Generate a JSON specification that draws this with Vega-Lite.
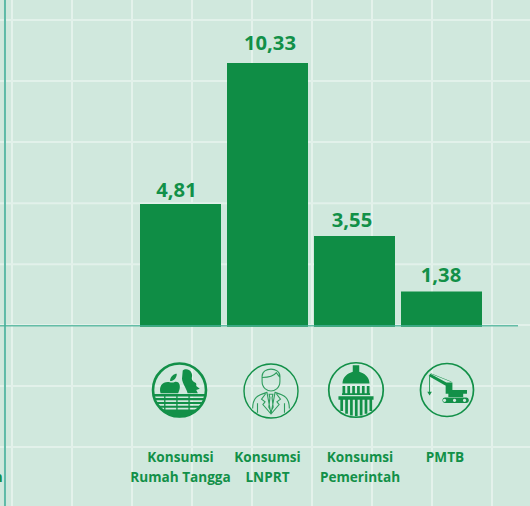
{
"$schema":"https://vega.github.io/schema/vega-lite/v6.json",
"width":530,"height":506,"padding":0,
"autosize":{"type":"fit","contains":"padding"},
"background":"#d0e8dd",
"config":{"view":{"stroke":null},"text":{"font":"Open Sans","fontWeight":700,"color":"#129048"}},
"datasets":{
"bars":[
{"kategori":"Konsumsi Rumah Tangga","nilai":4.81,"teks":"4,81","label":"Konsumsi\nRumah Tangga"},
{"kategori":"Konsumsi LNPRT","nilai":10.33,"teks":"10,33","label":"Konsumsi\nLNPRT"},
{"kategori":"Konsumsi Pemerintah","nilai":3.55,"teks":"3,55","label":"Konsumsi\nPemerintah"},
{"kategori":"PMTB","nilai":1.38,"teks":"1,38","label":"PMTB"}],
"gridV":[{"i":0},{"i":1},{"i":2},{"i":3},{"i":4},{"i":5},{"i":6},{"i":7},{"i":8}],
"gridH":[{"v":12.01},{"v":9.62},{"v":7.23},{"v":4.84},{"v":2.45},{"v":0.07},{"v":-2.32},{"v":-4.71}],
"axisH":[{"a":-0.2,"b":8.433,"v":0.04}],
"axisV":[{"a":-0.117}],
"potongan":[{"t":"n"}]
},
"layer":[
{"layer":[
{"data":{"name":"gridV"},"mark":{"type":"rule","color":"#eff7f3","strokeWidth":1.3,"clip":true},
 "encoding":{"x":{"field":"i","type":"quantitative","axis":null,"scale":{"domain":[-0.2,8.633],"zero":false,"nice":false}}}},
{"data":{"name":"gridH"},"mark":{"type":"rule","color":"#e2f1ea","strokeWidth":2,"clip":true},
 "encoding":{"y":{"field":"v","type":"quantitative","axis":null,"scale":{"domain":[-7.023,12.797],"nice":false,"zero":false}}}}
]},
{"data":{"name":"bars"},
 "encoding":{
  "x":{"field":"kategori","type":"nominal","axis":null,"sort":null,"scale":{"domain":["Konsumsi Rumah Tangga","Konsumsi LNPRT","Konsumsi Pemerintah","PMTB"],"range":[137,485],"paddingInner":0.069,"paddingOuter":0.0345}}
 },
 "layer":[
 {"mark":{"type":"bar","color":"#0f8d45"},
  "encoding":{"y":{"field":"nilai","type":"quantitative","axis":null,"scale":{"domain":[-7.023,12.797],"nice":false,"zero":false}}}},
 {"transform":[{"filter":"datum.kategori==='Konsumsi Rumah Tangga'"}],"mark":{"type":"text","fontSize":20.2,"baseline":"alphabetic","dx":-4,"dy":-6.5},
  "encoding":{"y":{"field":"nilai","type":"quantitative"},"text":{"field":"teks"}}},
 {"transform":[{"filter":"datum.kategori==='Konsumsi LNPRT'"}],"mark":{"type":"text","fontSize":20.2,"baseline":"alphabetic","dx":2.5,"dy":-13},
  "encoding":{"y":{"field":"nilai","type":"quantitative"},"text":{"field":"teks"}}},
 {"transform":[{"filter":"datum.kategori==='Konsumsi Pemerintah'"}],"mark":{"type":"text","fontSize":20.2,"baseline":"alphabetic","dx":-2.5,"dy":-9.5},
  "encoding":{"y":{"field":"nilai","type":"quantitative"},"text":{"field":"teks"}}},
 {"transform":[{"filter":"datum.kategori==='PMTB'"}],"mark":{"type":"text","fontSize":20.2,"baseline":"alphabetic","dx":-0.5,"dy":-9.5},
  "encoding":{"y":{"field":"nilai","type":"quantitative"},"text":{"field":"teks"}}},

 {"transform":[{"filter":"datum.kategori==='Konsumsi Rumah Tangga'"}],"mark":{"type":"point","shape":"circle","filled":false,"size":2809,"color":"#129048","strokeWidth":2.6,"opacity":1,"xOffset":-1},
  "encoding":{"y":{"datum":-2.48,"type":"quantitative"}}},
 {"transform":[{"filter":"datum.kategori==='Konsumsi Rumah Tangga'"}],"mark":{"type":"point","filled":true,"size":2916,"color":"#129048","opacity":1,"xOffset":-1,
  "shape":"M-.70,.12 C-.78,-.15 -.62,-.32 -.40,-.30 C-.30,-.28 -.25,-.26 -.18,-.30 C.0,-.34 .08,-.15 -.05,.12 Z M-.35,-.33 C-.35,-.5 -.2,-.6 -.1,-.6 C-.1,-.45 -.2,-.33 -.35,-.33 Z M.12,-.72 C.2,-.8 .4,-.78 .45,-.62 C.5,-.5 .42,-.45 .48,-.35 C.55,-.25 .65,-.3 .62,-.15 L.75,-.05 L.62,0 L.68,.12 L.3,.12 C.25,-.1 .05,-.3 .1,-.5 Z M-.98,.15 L.98,.15 L.96,.24 L-.96,.24 Z M-.94,.30 L.94,.30 L.91,.38 L-.91,.38 Z M-.89,.44 L.89,.44 L.84,.52 L-.84,.52 Z M-.80,.58 L.80,.58 L.74,.66 L-.74,.66 Z M-.69,.72 L.69,.72 A.98 .98 0 0 1 -.69,.72 Z M-.57,.15 L-.52,.15 L-.52,.8 L-.57,.8 Z M-.12,.15 L-.07,.15 L-.07,.9 L-.12,.9 Z M.33,.15 L.38,.15 L.38,.85 L.33,.85 Z"},
  "encoding":{"y":{"datum":-2.48,"type":"quantitative"}}},

 {"transform":[{"filter":"datum.kategori==='Konsumsi LNPRT'"}],"mark":{"type":"point","shape":"circle","filled":false,"size":2916,"color":"#129048","strokeWidth":1.4,"opacity":1,"xOffset":3.5},
  "encoding":{"y":{"datum":-2.52,"type":"quantitative"}}},
 {"transform":[{"filter":"datum.kategori==='Konsumsi LNPRT'"}],"mark":{"type":"point","filled":false,"size":2916,"color":"#129048","strokeWidth":1.1,"opacity":0.85,"xOffset":3.5,
  "shape":"M-.33,-.55 C-.33,-.9 .33,-.9 .33,-.55 L.33,-.35 C.33,-.1 .12,0 0,0 C-.12,0 -.33,-.1 -.33,-.35 Z M-.33,-.5 C-.1,-.5 .1,-.55 .2,-.68 C.25,-.6 .3,-.55 .33,-.5 M-.68,.65 C-.68,.25 -.5,.15 -.15,.05 L0,.85 L.15,.05 C.5,.15 .68,.25 .68,.65 M-.2,.1 L-.35,.3 L-.22,.4 L-.3,.5 L0,.85 L.3,.5 L.22,.4 L.35,.3 L.2,.1 M-.07,.12 L.07,.12 L.04,.25 L.08,.6 L0,.75 L-.08,.6 L-.04,.25 Z M-.5,.45 L-.5,.8 M.5,.45 L.5,.8"},
  "encoding":{"y":{"datum":-2.52,"type":"quantitative"}}},

 {"transform":[{"filter":"datum.kategori==='Konsumsi Pemerintah'"}],"mark":{"type":"point","shape":"circle","filled":false,"size":2970,"color":"#129048","strokeWidth":1.7,"opacity":1,"xOffset":1.5},
  "encoding":{"y":{"datum":-2.48,"type":"quantitative"}}},
 {"transform":[{"filter":"datum.kategori==='Konsumsi Pemerintah'"}],"mark":{"type":"point","filled":true,"size":2916,"color":"#129048","opacity":1,"xOffset":1.5,
  "shape":"M-.12,-.92 L.12,-.92 L.12,-.68 C.3,-.62 .5,-.5 .5,-.24 L-.5,-.24 C-.5,-.5 -.3,-.62 -.12,-.68 Z M-.5,-.15 L-.4,-.15 L-.4,.12 L-.5,.12 Z M-.32,-.15 L-.22,-.15 L-.22,.12 L-.32,.12 Z M-.14,-.15 L-.04,-.15 L-.04,.12 L-.14,.12 Z M.04,-.15 L.14,-.15 L.14,.12 L.04,.12 Z M.22,-.15 L.32,-.15 L.32,.12 L.22,.12 Z M.4,-.15 L.5,-.15 L.5,.12 L.4,.12 Z M-.52,.12 L.52,.12 L.52,.18 L-.52,.18 Z M-.65,.23 L.65,.23 L.65,.36 L-.65,.36 Z M-.58,.36 L-.48,.36 L-.48,.78 L-.58,.78 Z M-.4,.36 L-.3,.36 L-.3,.88 L-.4,.88 Z M-.22,.36 L-.12,.36 L-.12,.94 L-.22,.94 Z M-.04,.36 L.06,.36 L.06,.97 L-.04,.97 Z M.14,.36 L.24,.36 L.24,.94 L.14,.94 Z M.32,.36 L.42,.36 L.42,.88 L.32,.88 Z M.5,.36 L.6,.36 L.6,.78 L.5,.78 Z"},
  "encoding":{"y":{"datum":-2.48,"type":"quantitative"}}},

 {"transform":[{"filter":"datum.kategori==='PMTB'"}],"mark":{"type":"point","shape":"circle","filled":false,"size":2809,"color":"#129048","strokeWidth":1.7,"opacity":1,"xOffset":5.5},
  "encoding":{"y":{"datum":-2.48,"type":"quantitative"}}},
 {"transform":[{"filter":"datum.kategori==='PMTB'"}],"mark":{"type":"point","filled":true,"size":2916,"color":"#129048","opacity":1,"xOffset":5.5,
  "shape":"M-.68,-.52 L-.62,-.6 L.08,-.22 L.08,-.08 Z M-.66,-.5 L-.63,-.5 L-.63,.1 L-.66,.1 Z M-.73,.06 L-.56,.06 L-.645,.2 Z M-.05,-.28 L.2,-.28 L.2,0 L.74,0 L.74,.14 L.6,.14 L.6,.26 L.05,.26 L.05,.14 L-.05,.14 Z M-.07,.28 L.71,.28 A.1 .1 0 0 1 .71,.48 L-.07,.48 A.1 .1 0 0 1 -.07,.28 Z M-.15,.38 A.06 .06 0 1 0 -.03,.38 A.06 .06 0 1 0 -.15,.38 Z M.22,.38 A.06 .06 0 1 0 .34,.38 A.06 .06 0 1 0 .22,.38 Z M.59,.38 A.06 .06 0 1 0 .71,.38 A.06 .06 0 1 0 .59,.38 Z M-.6,-.62 L.16,-.32 L.16,-.3 L-.6,-.6 Z"},
  "encoding":{"y":{"datum":-2.48,"type":"quantitative"}}},

 {"transform":[{"filter":"datum.kategori==='Konsumsi Rumah Tangga' || datum.kategori==='Konsumsi LNPRT'"}],"mark":{"type":"text","fontSize":13.6,"baseline":"middle","lineHeight":20,"lineBreak":"\n","align":"center"},
  "encoding":{"y":{"datum":-5.15,"type":"quantitative"},"text":{"field":"label"}}},
 {"transform":[{"filter":"datum.kategori==='Konsumsi Pemerintah'"}],"mark":{"type":"text","fontSize":13.6,"baseline":"middle","lineHeight":20,"lineBreak":"\n","align":"center","dx":5.5},
  "encoding":{"y":{"datum":-5.15,"type":"quantitative"},"text":{"field":"label"}}},
 {"transform":[{"filter":"datum.kategori==='PMTB'"}],"mark":{"type":"text","fontSize":13.6,"baseline":"middle","align":"center","dx":3.5},
  "encoding":{"y":{"datum":-5.15,"type":"quantitative"},"text":{"field":"label"}}}
 ]},
{"layer":[
{"data":{"name":"axisV"},"mark":{"type":"rule","color":"#5fbaa7","strokeWidth":2,"clip":true},
 "encoding":{"x":{"field":"a","type":"quantitative","axis":null,"scale":{"domain":[-0.2,8.633],"zero":false,"nice":false}}}},
{"data":{"name":"axisH"},"mark":{"type":"rule","color":"#45b096","strokeWidth":1.6,"opacity":0.8,"clip":true},
 "encoding":{"x":{"field":"a","type":"quantitative"},"x2":{"field":"b"},"y":{"field":"v","type":"quantitative","axis":null,"scale":{"domain":[-7.023,12.797],"nice":false,"zero":false}}}},
{"data":{"name":"potongan"},"mark":{"type":"text","fontSize":13.6,"baseline":"middle","align":"right","clip":true},
 "encoding":{"x":{"datum":-0.155,"type":"quantitative"},"y":{"datum":-5.92,"type":"quantitative"},"text":{"field":"t"}}}
]}
],
"resolve":{"scale":{"x":"independent"}}
}
